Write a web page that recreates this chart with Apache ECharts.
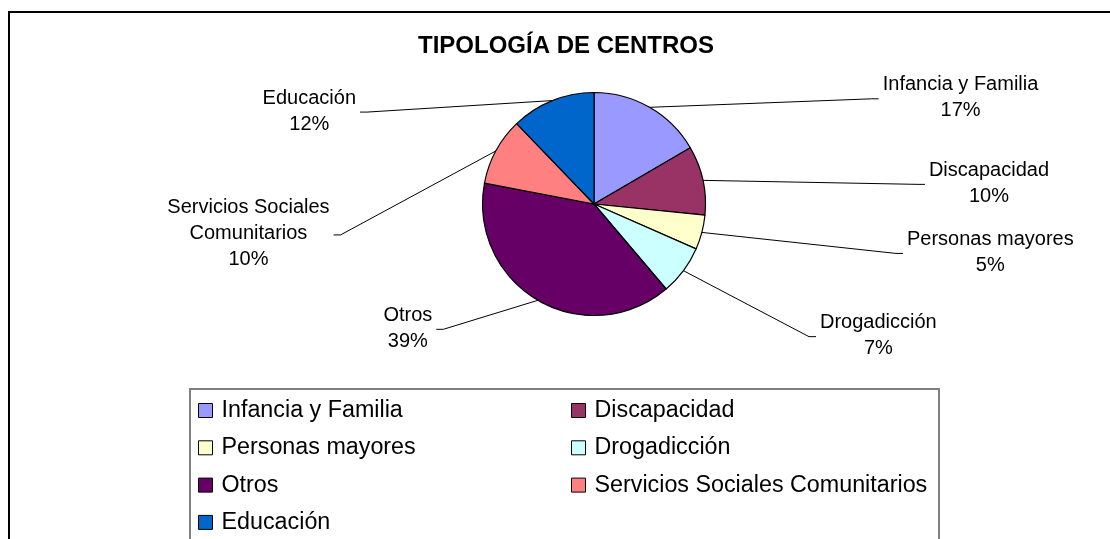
<!DOCTYPE html>
<html>
<head>
<meta charset="utf-8">
<script src="https://cdn.jsdelivr.net/npm/echarts@6/dist/echarts.min.js"></script>
<style>
  html, body { margin: 0; padding: 0; background: #fff; }
  #chart { width: 1110px; height: 539px; }
</style>
</head>
<body>
<div id="chart"></div>
<script>
// ---- data ----
const titleText = 'TIPOLOGÍA DE CENTROS';
const categories = ['Infancia y Familia', 'Discapacidad', 'Personas mayores', 'Drogadicción', 'Otros', 'Servicios Sociales Comunitarios', 'Educación'];
const shares = [16.6, 10.0, 5.0, 7.2, 39.2, 9.8, 12.2];
const legendLeftColumn = ['Infancia y Familia', 'Personas mayores', 'Otros', 'Educación'];
const legendRightColumn = ['Discapacidad', 'Drogadicción', 'Servicios Sociales Comunitarios'];

// ---- styles / layout ----
const sliceColors = ['#9999FF', '#993366', '#FFFFCC', '#CCFFFF', '#660066', '#FF8080', '#0066CC'];
// label nudges relative to each slice's outer mid-point
const labelOffsets = [[311, -9.5], [286, 3], [288.5, 20], [195, 65], [-130, 28], [-247.5, 83], [-243, 10.5]];
const FONT = "'Liberation Sans', Arial, sans-serif";

const pieData = categories.map((name, i) => ({
  name: name,
  value: shares[i],
  itemStyle: { color: sliceColors[i] }
}));

function legendCfg(left, names) {
  return {
    orient: 'vertical',
    left: left,
    top: 398.5,
    padding: 0,
    itemGap: 13.3,
    itemWidth: 14,
    itemHeight: 14,
    icon: 'rect',
    data: names,
    selectedMode: false,
    itemStyle: { borderColor: '#000', borderWidth: 1 },
    textStyle: { fontFamily: FONT, fontSize: 23.3, color: '#000', lineHeight: 24, padding: [0, 0, 0, 4] }
  };
}

const chart = echarts.init(document.getElementById('chart'), null, { renderer: 'canvas' });
chart.setOption({
  animation: false,
  backgroundColor: '#fff',
  title: {
    text: titleText,
    left: 418,
    top: 34,
    padding: 0,
    textStyle: { fontFamily: FONT, fontSize: 24, fontWeight: 'bold', color: '#000' }
  },
  graphic: [
    { type: 'rect', silent: true, shape: { x: 9, y: 12, width: 1200, height: 800 },
      style: { fill: 'none', stroke: '#000', lineWidth: 2 } },
    { type: 'rect', silent: true, shape: { x: 190, y: 389, width: 749, height: 400 },
      style: { fill: 'none', stroke: '#7f7f7f', lineWidth: 2 } }
  ],
  legend: [legendCfg(198, legendLeftColumn), legendCfg(571, legendRightColumn)],
  series: [{
    type: 'pie',
    center: [594, 204],
    radius: 111.5,
    startAngle: 90,
    clockwise: true,
    percentPrecision: 0,
    avoidLabelOverlap: false,
    itemStyle: { borderColor: '#000', borderWidth: 1.2 },
    emphasis: { disabled: true },
    label: {
      show: true,
      position: 'outside',
      fontFamily: FONT,
      fontSize: 20,
      lineHeight: 26,
      color: '#000',
      formatter: function (p) {
        let n = p.name;
        if (n.length > 20) {
          const k = n.lastIndexOf(' ');
          n = n.slice(0, k) + '\n' + n.slice(k + 1);
        }
        return n + '\n' + p.percent + '%';
      }
    },
    labelLine: { show: true, length: 20, length2: 20, smooth: false, lineStyle: { color: '#000', width: 1 } },
    labelLayout: function (p) {
      const off = labelOffsets[p.dataIndex];
      const e = p.labelLinePoints[0];
      const cx = e[0] + off[0];
      const cy = e[1] + off[1];
      const half = p.labelRect.width / 2;
      const side = off[0] >= 0 ? 1 : -1;
      const endX = cx - side * (half + 4);
      return {
        x: cx, y: cy, align: 'center', verticalAlign: 'middle',
        labelLinePoints: [[e[0], e[1]], [endX - side * 7, cy + 1], [endX, cy + 1]]
      };
    },
    data: pieData
  }]
});
</script>
</body>
</html>
